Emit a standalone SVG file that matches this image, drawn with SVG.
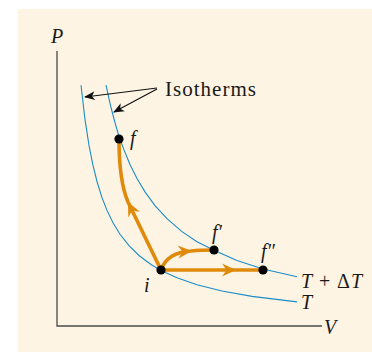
<svg xmlns="http://www.w3.org/2000/svg" width="372" height="354" viewBox="0 0 372 354">
<style>
.axis{stroke:#4a4a4a;stroke-width:1.3;fill:none}
.iso{stroke:#1b8cc6;stroke-width:1.1;fill:none}
.path{stroke:#e08a0b;stroke-width:3.6;fill:none;stroke-linecap:round}
.lbl{font-family:"Liberation Serif","Times New Roman",serif;font-style:italic;font-size:20px;fill:#1a1a1a}
.up{font-style:normal}
.txt{font-family:"Liberation Serif","Times New Roman",serif;font-size:21px;fill:#1a1a1a}
.ptr{stroke:#111;stroke-width:1.2;fill:none}
</style>
<defs>
<path id="oh" d="M0,0 L-14,-6.5 L-9.5,0 L-14,6.5 Z" fill="#e08a0b"/>
<marker id="bh" markerWidth="12" markerHeight="10" refX="10" refY="5" orient="auto" markerUnits="userSpaceOnUse">
<path d="M0,0.5 L11,5 L0,9.5 L3,5 Z" fill="#111"/>
</marker>
</defs>
<rect x="18" y="9" width="354" height="343" fill="#fef4e3"/>
<g id="axes">
<path class="axis" d="M57,51 V326 H322"/>
<text class="lbl" x="51" y="43">P</text>
<text class="lbl" x="324" y="334">V</text>
</g>
<g id="isotherms">
<polyline id="isoT" class="iso" points="81,85.2 85,119.6 89,145.4 93,165.4 97,181.5 102,197.6 107,210.4 113,222.8 120,234.3 129,245.7 139,255.5 151,264.5 161,270.4 177,277.8 197,284.7 222,291 252,296.4 297,301.9"/>
<polyline id="isoTdT" class="iso" points="106,85.2 111,107.5 115,122.6 119,136.5 124,149.9 130,164.4 137,178.5 145,191.9 155,205.6 167,218.7 182,231.6 197,241.7 214,250.3 237,260.4 263,269 297,276.8"/>
<text class="lbl" x="301" y="288" textLength="61">T<tspan class="up"> + Δ</tspan>T</text>
<text class="lbl" x="301" y="309">T</text>
</g>
<g id="label-isotherms">
<text class="txt" x="165" y="96" textLength="91">Isotherms</text>
</g>
<g id="connectors">
<line class="ptr" x1="157" y1="88" x2="85" y2="97" marker-end="url(#bh)"/>
<line class="ptr" x1="157" y1="89" x2="114" y2="112" marker-end="url(#bh)"/>
<path class="path" d="M161,270 L128,202 C122,188 119,168 119,139"/>
<use href="#oh" transform="translate(128,202) rotate(-116)"/>
<path class="path" d="M161,270 C165,258 175,252 191,251 C200,250 206,250 214,250"/>
<use href="#oh" transform="translate(192,251) rotate(-4)"/>
<path class="path" d="M161,270 H263"/>
<use href="#oh" transform="translate(236,270)"/>
</g>
<g id="node-i">
<circle cx="161" cy="270" r="4.6" fill="#000"/>
<text class="lbl" x="144" y="292">i</text>
</g>
<g id="node-f">
<circle cx="119" cy="139" r="4.6" fill="#000"/>
<text class="lbl" x="130" y="145">f</text>
</g>
<g id="node-f1">
<circle cx="214" cy="250" r="4.6" fill="#000"/>
<text class="lbl" x="212" y="239">f′</text>
</g>
<g id="node-f2">
<circle cx="263" cy="270" r="4.6" fill="#000"/>
<text class="lbl" x="261" y="258">f″</text>
</g>
</svg>
